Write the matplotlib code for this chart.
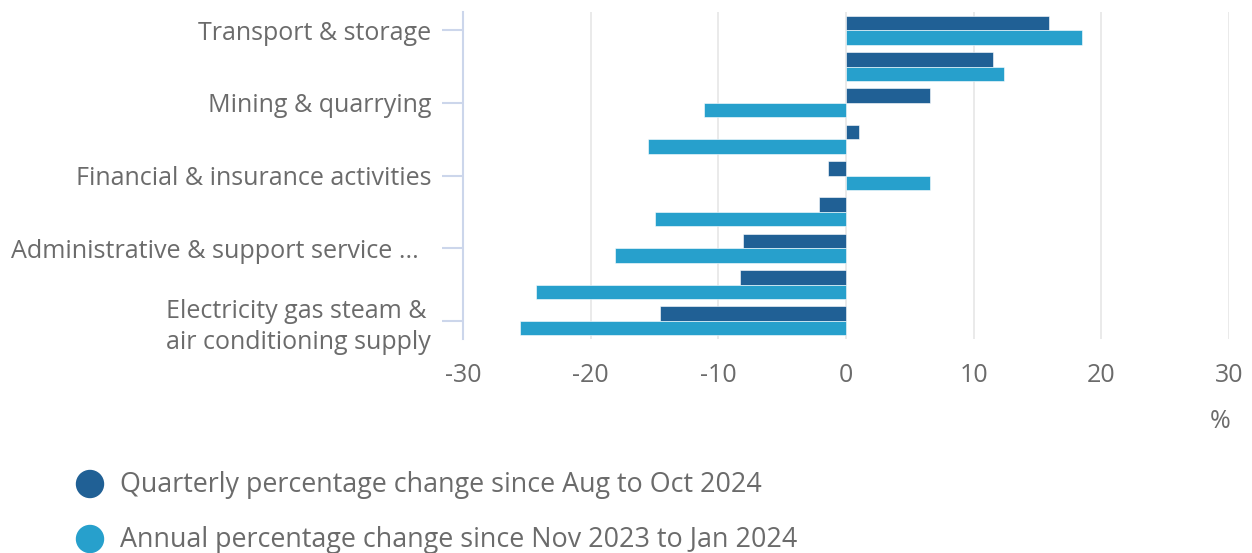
import matplotlib
matplotlib.use("Agg")
import matplotlib.pyplot as plt
import matplotlib.transforms as mtransforms
import numpy as np

plt.rcParams['font.family'] = ['Open Sans', 'DejaVu Sans']

# Data (top to bottom)
tick_labels = [
    "Transport & storage", "",
    "Mining & quarrying", "",
    "Financial & insurance activities", "",
    "Administrative & support service ...", "",
    "Electricity gas steam &\nair conditioning supply",
]
quarterly = [15.9, 11.5, 6.6, 1.0, -1.4, -2.1, -8.1, -8.3, -14.6]
annual = [18.5, 12.4, -11.1, -15.5, 6.6, -15.0, -18.1, -24.3, -25.5]
series_names = ["Quarterly percentage change since Aug to Oct 2024",
                "Annual percentage change since Nov 2023 to Jan 2024"]
x_ticks = [-30, -20, -10, 0, 10, 20, 30]

c_dark = "#206095"
c_light = "#27a0cc"
text_col = "#6b6b6b"

W, H = 1252, 553
fig = plt.figure(figsize=(W / 100, H / 100), dpi=100)
ax = fig.add_axes([463 / W, (H - 339) / H, (1229 - 463) / W, (339 - 12) / H])

n = len(quarterly)
y = np.arange(n)
bh = 0.4
ax.barh(y - bh / 2, quarterly, height=bh, color=c_dark, edgecolor="white", linewidth=0.4, zorder=3)
ax.barh(y + bh / 2, annual, height=bh, color=c_light, edgecolor="white", linewidth=0.4, zorder=3)

ax.set_ylim(n - 0.5, -0.5)
ax.set_xlim(-30, 30)
ax.set_xticks(x_ticks)
ax.set_xticklabels([str(v) for v in x_ticks])

shown = [i for i, t in enumerate(tick_labels) if t]
ax.set_yticks(shown)
# truncated label sits slightly further left (ellipsis spacing): drawn separately
ax.set_yticklabels(["" if tick_labels[i].endswith("...") else tick_labels[i] for i in shown],
                   ha='right', multialignment='left', linespacing=1.3)
for i in shown:
    if tick_labels[i].endswith("..."):
        tr = ax.get_yaxis_transform() + mtransforms.ScaledTranslation(-44 / 100, 0, fig.dpi_scale_trans)
        ax.text(0, i, tick_labels[i], transform=tr, ha='right', va='center_baseline',
                fontsize=18.1, color=text_col, clip_on=False)

ax.grid(axis='x', color='#e6e6e6', linewidth=1.2, zorder=0)
for s in ['top', 'right', 'bottom']:
    ax.spines[s].set_visible(False)
ax.spines['left'].set_color('#ccd6eb')
ax.spines['left'].set_linewidth(1.5)

ax.tick_params(axis='y', length=15, width=1.5, color='#ccd6eb', pad=8,
               labelsize=18, labelcolor=text_col)
ax.tick_params(axis='x', length=0, pad=17, labelsize=18, labelcolor=text_col)

fig.text(1220 / W, 1 - 422 / H, "%", ha='center', va='center', fontsize=18, color=text_col)

# Legend
for i, (name, col) in enumerate(zip(series_names, [c_dark, c_light])):
    yy = 1 - (484 + i * 55) / H
    fig.patches.append(matplotlib.patches.Ellipse((90 / W, yy), 27 / W, 27 / H,
                                                  transform=fig.transFigure, color=col))
    fig.text(120 / W, yy - 1 / H, name, ha='left', va='center', fontsize=19.4, color=text_col)

fig.savefig("out.png", dpi=100)
